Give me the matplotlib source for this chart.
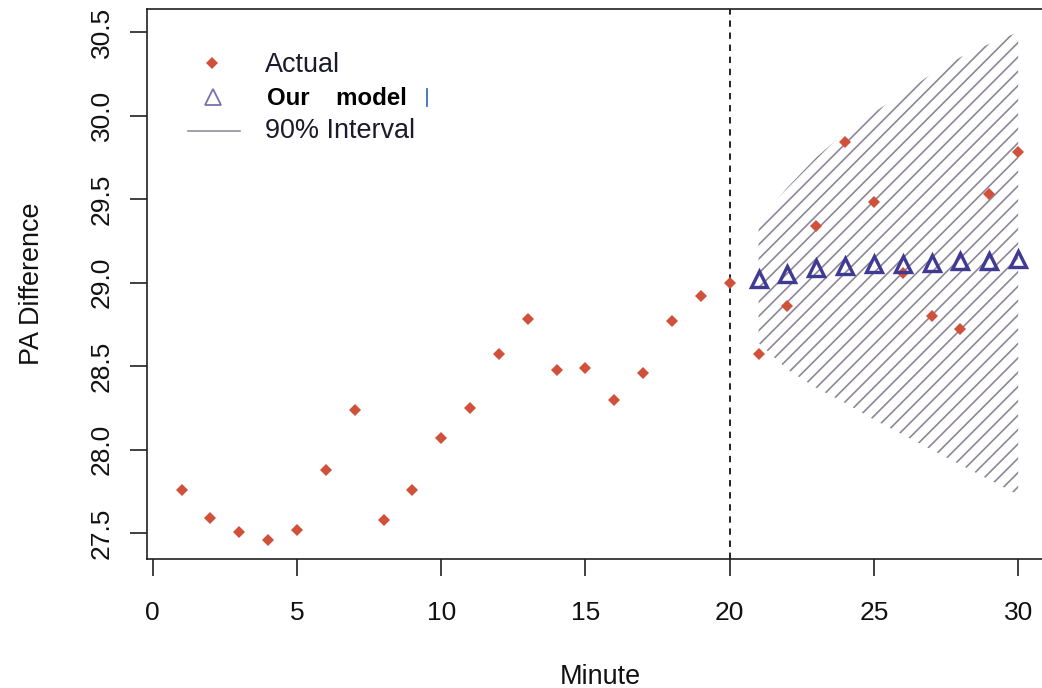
import matplotlib.pyplot as plt
from matplotlib.lines import Line2D

# data
minute = list(range(1, 31))
actual = [27.76, 27.59, 27.51, 27.46, 27.52, 27.88, 28.24, 27.58, 27.76, 28.07,
          28.25, 28.57, 28.78, 28.48, 28.49, 28.30, 28.46, 28.77, 28.92, 29.00,
          28.57, 28.86, 29.34, 29.84, 29.48, 29.06, 28.80, 28.72, 29.53, 29.78]
pred_minute = list(range(21, 31))
predicted = [29.02, 29.05, 29.09, 29.10, 29.11, 29.11, 29.12, 29.13, 29.13, 29.14]
upper = [29.37, 29.57, 29.75, 29.90, 30.02, 30.13, 30.25, 30.35, 30.43, 30.50]
lower = [28.64, 28.48, 28.37, 28.28, 28.18, 28.09, 28.00, 27.91, 27.82, 27.73]
yticks = [27.5, 28.0, 28.5, 29.0, 29.5, 30.0, 30.5]
xticks = [0, 5, 10, 15, 20, 25, 30]

RED = "#d1503a"
BLUE = "#3f3a93"
GREY = "#8f8798"

W, H = 1042, 688
DPI = 86.4  # makes the '//' hatch spacing match the reference

plt.rcParams["font.family"] = ["Liberation Sans", "DejaVu Sans"]
plt.rcParams["hatch.linewidth"] = 1.4
plt.rcParams["hatch.color"] = GREY


def fx(px):
    return px / W


def fy(py):
    return 1 - py / H


fig = plt.figure(figsize=(W / DPI, H / DPI), dpi=DPI)
ax = fig.add_axes([fx(147), fy(559.3), (1052.8 - 147) / W, (559.3 - 8.7) / H])

ax.fill_between(pred_minute, lower, upper, facecolor="none", edgecolor=GREY,
                hatch="//", linewidth=0, zorder=1)
ax.axvline(20, color="black", lw=1.4, linestyle=(0, (3.8, 3.4)), zorder=2)
ax.plot(minute, actual, linestyle="none", marker="D", markersize=7,
        color=RED, markeredgewidth=0, zorder=3)
ax.plot(pred_minute, predicted, linestyle="none", marker="^", markersize=14,
        markerfacecolor="none", markeredgecolor=BLUE, markeredgewidth=2.8,
        zorder=4)

ax.set_xlim(-0.2, 31.2)
ax.set_ylim(27.344, 30.64)
ax.set_xticks(xticks)
ax.set_yticks(yticks)
ax.set_yticklabels([f"{v:.1f}" for v in yticks])
for s in ax.spines.values():
    s.set_linewidth(1.4)
    s.set_color("#222222")
ax.tick_params(axis="both", direction="out", length=14, width=1.4,
               color="#222222", labelsize=22, labelcolor="#111111")
ax.tick_params(axis="x", pad=21)
ax.tick_params(axis="y", pad=13.5, labelrotation=90)
for lbl in ax.get_yticklabels():
    lbl.set_va("center")

fig.text(fx(600), fy(684), "Minute", fontsize=22.5, ha="center",
         va="baseline", color="#111111")
fig.text(fx(31.7), fy(284), "PA Difference", fontsize=22.5, rotation=90,
         ha="center", va="center", color="#111111")

# legend (no box), laid out like the R legend
fig.add_artist(Line2D([fx(212)], [fy(63.3)], transform=fig.transFigure,
                      marker="D", markersize=6.5, color=RED,
                      markeredgewidth=0, linestyle="none"))
fig.add_artist(Line2D([fx(213.3)], [fy(96.7)], transform=fig.transFigure,
                      marker="^", markersize=13, markerfacecolor="none",
                      markeredgecolor="#7870b0", markeredgewidth=1.5,
                      linestyle="none"))
fig.add_artist(Line2D([fx(188), fx(240)], [fy(130.7), fy(130.7)],
                      transform=fig.transFigure, color=GREY, lw=1.3))
fig.text(fx(265), fy(72.5), "Actual", fontsize=22.5, va="baseline",
         color="#1a1a2a")
fig.text(fx(267), fy(105), "Our    model", fontsize=20, fontweight="bold",
         va="baseline", color="black")
fig.add_artist(Line2D([fx(427), fx(427)], [fy(89), fy(106)],
                      transform=fig.transFigure, color="#3a6fc4", lw=1.5))
fig.text(fx(265), fy(138.5), "90% Interval", fontsize=22.5, va="baseline",
         color="#1a1a2a")

fig.savefig("out.png", dpi=DPI)
